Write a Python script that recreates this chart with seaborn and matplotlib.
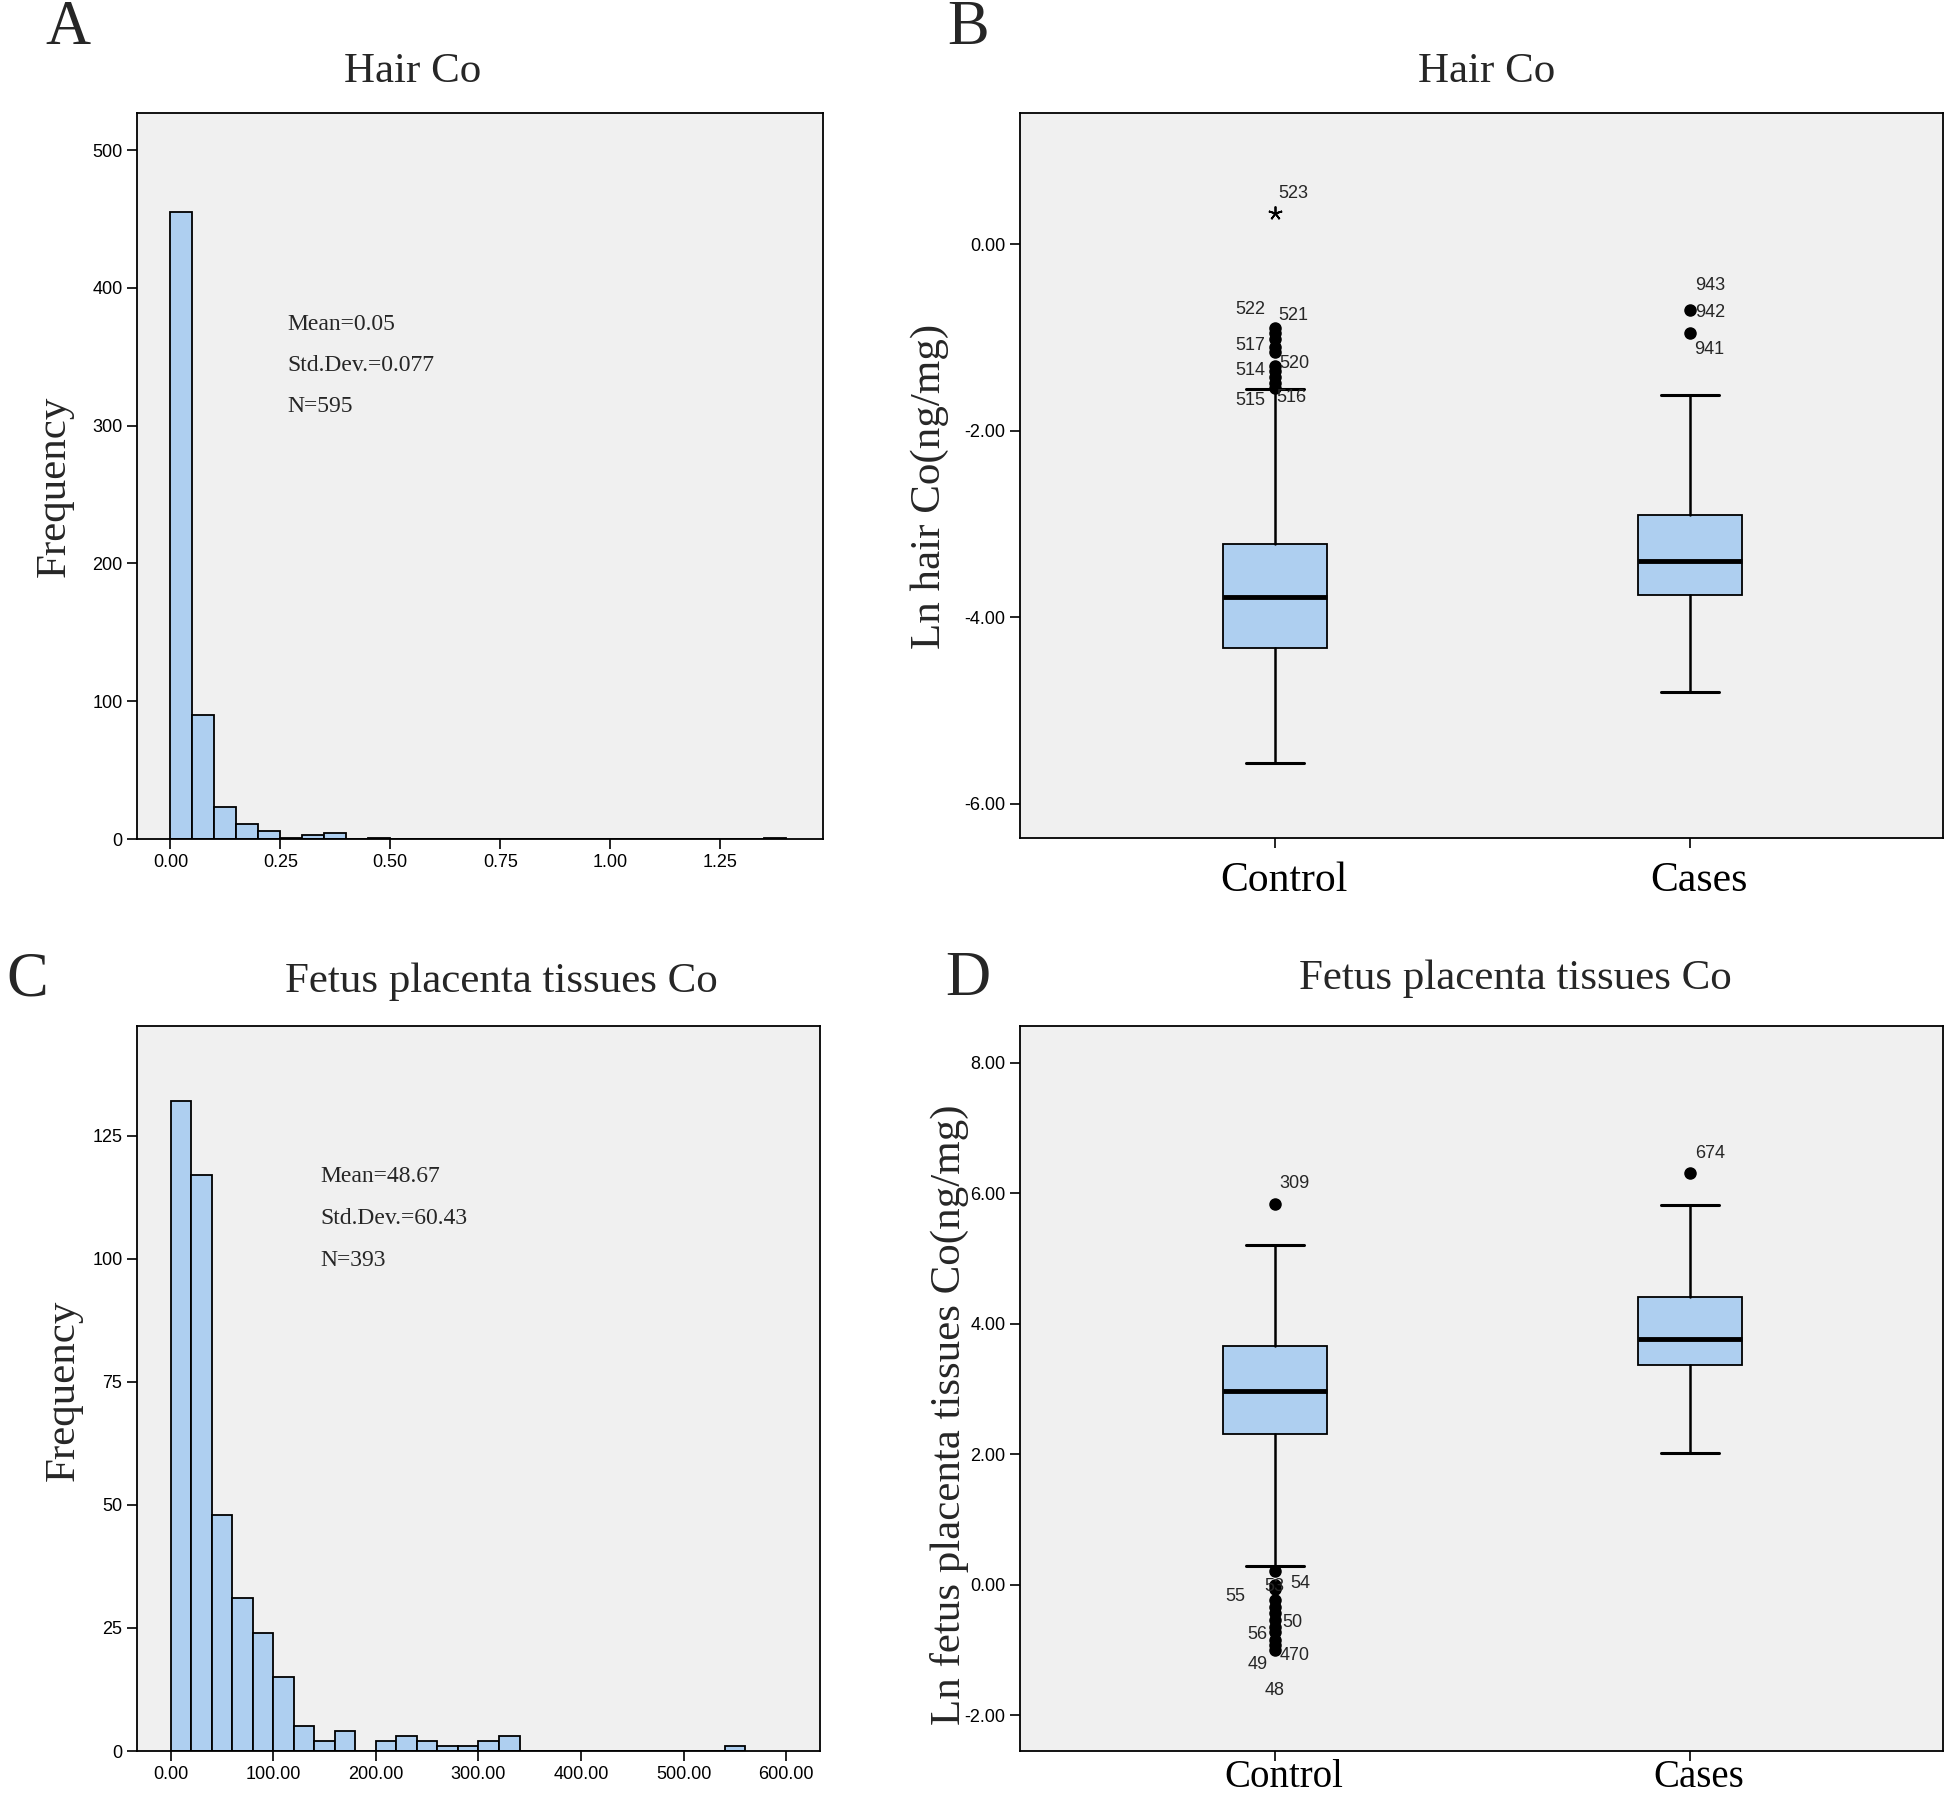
import numpy as np
import pandas as pd
import matplotlib
matplotlib.use("Agg")
import matplotlib.pyplot as plt
import matplotlib.transforms as mtransforms
import seaborn as sns
from matplotlib.ticker import FormatStrFormatter

# ---- panel A: hair Co histogram (bin width 0.05)
hair_edges = np.linspace(0, 1.40, 29)
hair_counts = [455, 90, 23, 11, 6, 1, 3, 4, 0, 1, 0, 0, 0, 0, 0, 0, 0, 0, 0, 0,
               0, 0, 0, 0, 0, 0, 0, 1]
hair_stats = ["Mean=0.05", "Std.Dev.=0.077", "N=595"]

# ---- panel C: fetus placenta tissues Co histogram (bin width 20)
fetus_edges = np.linspace(0, 560, 29)
fetus_counts = [132, 117, 48, 31, 24, 15, 5, 2, 4, 0, 2, 3, 2, 1, 1, 2, 3, 0, 0, 0,
                0, 0, 0, 0, 0, 0, 0, 1]
fetus_stats = ["Mean=48.67", "Std.Dev.=60.43", "N=393"]

# ---- panel B: ln hair Co boxplot
groups = ["Control", "Cases"]
hair_q1 = [-4.33, -3.76]
hair_med = [-3.78, -3.40]
hair_q3 = [-3.22, -2.90]
hair_lo = [-5.56, -4.80]
hair_hi = [-1.55, -1.62]
hair_fliers = [[-0.90, -0.95, -1.02, -1.10, -1.15, -1.31, -1.36, -1.42, -1.49, -1.54],
               [-0.70, -0.95]]
hair_extreme_y = [0.34]          # "*" extreme value in Control
hair_ids = ["523", "522", "521", "517", "514", "520", "515", "516", "943", "942", "941"]
hair_id_group = [0, 0, 0, 0, 0, 0, 0, 0, 1, 1, 1]
hair_id_y = [0.55, -0.70, -0.76, -1.09, -1.35, -1.28, -1.67, -1.64, -0.44, -0.73, -1.13]
hair_id_dx = [0.045, -0.058, 0.045, -0.058, -0.058, 0.048, -0.058, 0.04, 0.048, 0.048, 0.046]

# ---- panel D: ln fetus placenta tissues Co boxplot
fetus_q1 = [2.31, 3.36]
fetus_med = [2.97, 3.76]
fetus_q3 = [3.65, 4.40]
fetus_lo = [0.29, 2.01]
fetus_hi = [5.20, 5.81]
fetus_fliers = [[5.83, 0.21, -0.01, -0.06, -0.24, -0.34, -0.44, -0.54, -0.65, -0.72,
                 -0.85, -0.93, -1.00],
                [6.30]]
fetus_ids = ["309", "674", "54", "53", "55", "50", "56", "470", "49", "48"]
fetus_id_group = [0, 1, 0, 0, 0, 0, 0, 0, 0, 0]
fetus_id_y = [6.15, 6.61, 0.01, -0.03, -0.19, -0.58, -0.76, -1.09, -1.23, -1.62]
fetus_id_dx = [0.048, 0.048, 0.063, 0.0, -0.094, 0.043, -0.041, 0.048, -0.041, 0.0]

sns.set_style("ticks")
plt.rcParams["font.family"] = ["Liberation Sans", "DejaVu Sans"]
SERIF = ["Liberation Serif", "DejaVu Serif"]
FILL = "#aecff0"
BG = "#f0f0f0"

W, H = 1946, 1798
fig = plt.figure(figsize=(W / 100, H / 100), dpi=100)


def add_ax(l, t, r, b):
    ax = fig.add_axes([l / W, 1 - b / H, (r - l) / W, (b - t) / H])
    ax.set_facecolor(BG)
    for s in ax.spines.values():
        s.set_visible(True)
        s.set_color("black")
        s.set_linewidth(1.3)
    ax.tick_params(direction="out", length=7, width=1.2, labelsize=13, colors="black")
    return ax


def hist_panel(ax, edges, counts, xlim, ylim, xticks, yticks):
    df = pd.DataFrame({"x": (edges[:-1] + edges[1:]) / 2, "w": counts})
    sns.histplot(data=df, x="x", weights="w", bins=list(edges), ax=ax, color=FILL,
                 edgecolor="black", linewidth=1.3, alpha=1)
    ax.set_xlim(*xlim)
    ax.set_ylim(*ylim)
    ax.set_xticks(xticks)
    ax.set_yticks(yticks)
    ax.xaxis.set_major_formatter(FormatStrFormatter("%.2f"))
    ax.set_xlabel("")
    ax.set_ylabel("")


def box_panel(ax, q1, med, q3, lo, hi, fliers, ylim, yticks, pad, fs):
    stats = []
    for i in range(len(groups)):
        stats.append(dict(q1=q1[i], med=med[i], q3=q3[i], whislo=lo[i], whishi=hi[i],
                          fliers=fliers[i], label=groups[i]))
    ax.bxp(stats, positions=[0, 1], widths=0.25, capwidths=0.14, patch_artist=True,
           manage_ticks=False,
           boxprops=dict(facecolor=FILL, edgecolor="black", linewidth=1.3),
           medianprops=dict(color="black", linewidth=3.5),
           whiskerprops=dict(color="black", linewidth=1.8),
           capprops=dict(color="black", linewidth=2.2),
           flierprops=dict(marker="o", markerfacecolor="black", markeredgecolor="black",
                           markersize=8))
    ax.set_xlim(-0.613, 1.609)
    ax.set_ylim(*ylim)
    ax.set_yticks(yticks)
    ax.yaxis.set_major_formatter(FormatStrFormatter("%.2f"))
    ax.set_xticks([0, 1])
    ax.set_xticklabels(groups, family=SERIF, fontsize=fs)
    ax.tick_params(axis="x", pad=pad)
    shift = mtransforms.ScaledTranslation(0.09, 0, fig.dpi_scale_trans)
    for lab in ax.get_xticklabels():
        lab.set_transform(lab.get_transform() + shift)


def id_labels(ax, ids, grp, ys, dxs):
    for t, g, y, dx in zip(ids, grp, ys, dxs):
        ax.text(g + dx, y, t, ha="center", va="center", fontsize=13)


# A
axA = add_ax(137, 113, 823, 839)
hist_panel(axA, hair_edges, hair_counts, (-0.076, 1.484), (0, 527),
           [0, 0.25, 0.5, 0.75, 1.0, 1.25], [0, 100, 200, 300, 400, 500])
# C
axC = add_ax(137, 1026, 820, 1751)
hist_panel(axC, fetus_edges, fetus_counts, (-33, 633), (0, 147.3),
           [0, 100, 200, 300, 400, 500, 600], [0, 25, 50, 75, 100, 125])
# B
axB = add_ax(1020, 113, 1943, 838)
box_panel(axB, hair_q1, hair_med, hair_q3, hair_lo, hair_hi, hair_fliers,
          (-6.37, 1.41), [-6, -4, -2, 0], pad=10, fs=30)
axB.plot([0] * len(hair_extreme_y), hair_extreme_y, linestyle="none",
         marker=(5, 2, 0), markersize=10, markeredgewidth=1.3, color="black")
id_labels(axB, hair_ids, hair_id_group, hair_id_y, hair_id_dx)
# D
axD = add_ax(1020, 1026, 1943, 1751)
box_panel(axD, fetus_q1, fetus_med, fetus_q3, fetus_lo, fetus_hi, fetus_fliers,
          (-2.55, 8.56), [-2, 0, 2, 4, 6, 8], pad=-1, fs=28)
id_labels(axD, fetus_ids, fetus_id_group, fetus_id_y, fetus_id_dx)

# panel letters, titles, y labels, summary text
def ftext(x, y, s, **kw):
    fig.text(x / W, 1 - y / H, s, family=SERIF, ha="center", va="center", **kw)

for x, y, s in [(68, 29, "A"), (968, 29, "B"), (27, 980, "C"), (968, 980, "D")]:
    ftext(x, y, s, fontsize=45)

ftext(413, 72, "Hair Co", fontsize=31)
ftext(1487, 72, "Hair Co", fontsize=31)
ftext(501, 982, "Fetus placenta tissues Co", fontsize=31)
ftext(1515, 979, "Fetus placenta tissues Co", fontsize=31)

ftext(55, 486, "Frequency", fontsize=31, rotation=90)
ftext(64, 1390, "Frequency", fontsize=31, rotation=90)
ftext(930, 486, "Ln hair Co(ng/mg)", fontsize=31, rotation=90)
ftext(949, 1415, "Ln fetus placenta tissues Co(ng/mg)", fontsize=31, rotation=90)

for i, s in enumerate(hair_stats):
    fig.text(287 / W, 1 - (324 + 41.5 * i) / H, s, family=SERIF, fontsize=17,
             ha="left", va="center")
for i, s in enumerate(fetus_stats):
    fig.text(320 / W, 1 - (1176 + 42.5 * i) / H, s, family=SERIF, fontsize=17,
             ha="left", va="center")

fig.savefig("out.png", dpi=100, facecolor="white")
